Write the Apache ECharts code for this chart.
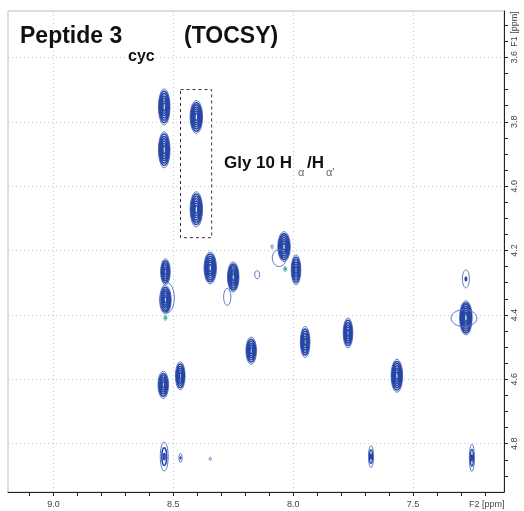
<!DOCTYPE html>
<html>
<head>
<meta charset="utf-8">
<script src="https://cdn.jsdelivr.net/npm/echarts@6/dist/echarts.min.js"></script>
<style>
html, body {margin: 0; padding: 0; background: #fff;}
#chart {width: 524px; height: 511px;}
</style>
</head>
<body>
<div id="chart"></div>
<script>
// F2 (horizontal) and F1 (vertical) windows, ppm
var f2Range = [7.12, 9.19];
var f1Range = [3.456, 4.95];
var f2Labels = [7.5, 8.0, 8.5, 9.0];
var f2Ticks = [7.2, 7.3, 7.4, 7.5, 7.6, 7.7, 7.8, 7.9, 8.0, 8.1, 8.2, 8.3, 8.4, 8.5, 8.6, 8.7, 8.8, 8.9, 9.0, 9.1];
var f1Labels = [3.6, 3.8, 4.0, 4.2, 4.4, 4.6, 4.8];
var f1Ticks = [3.5, 3.55, 3.6, 3.65, 3.7, 3.75, 3.8, 3.85, 3.9, 3.95, 4.0, 4.05, 4.1, 4.15, 4.2,
               4.25, 4.3, 4.35, 4.4, 4.45, 4.5, 4.55, 4.6, 4.65, 4.7, 4.75, 4.8, 4.85, 4.9];

// cross peaks: [F2 ppm, F1 ppm, width ppm, height ppm, contour levels]
var peaks = [
    [8.538, 3.754, 0.048, 0.112, 7],
    [8.538, 3.887, 0.048, 0.112, 7],
    [8.404, 3.785, 0.052, 0.102, 7],
    [8.404, 4.072, 0.052, 0.109, 7],
    [8.038, 4.188, 0.052, 0.093, 7],
    [8.058, 4.223, 0.058, 0.053, 1],
    [8.088, 4.188, 0.008, 0.012, 1],
    [7.988, 4.260, 0.040, 0.093, 6],
    [8.533, 4.266, 0.040, 0.081, 6],
    [8.533, 4.353, 0.048, 0.087, 7],
    [8.525, 4.347, 0.058, 0.093, 1],
    [8.346, 4.254, 0.052, 0.099, 7],
    [8.250, 4.282, 0.048, 0.093, 7],
    [8.275, 4.344, 0.030, 0.053, 1],
    [8.150, 4.275, 0.021, 0.025, 1],
    [8.175, 4.511, 0.044, 0.084, 6],
    [7.950, 4.484, 0.040, 0.096, 6],
    [8.542, 4.617, 0.044, 0.084, 6],
    [8.471, 4.589, 0.040, 0.087, 6],
    [7.771, 4.456, 0.040, 0.093, 6],
    [7.567, 4.589, 0.048, 0.102, 7],
    [7.279, 4.288, 0.029, 0.056, 2],
    [7.279, 4.409, 0.052, 0.106, 8],
    [7.287, 4.410, 0.108, 0.053, 1],
    [8.538, 4.840, 0.033, 0.090, 3],
    [8.470, 4.844, 0.013, 0.028, 2],
    [8.346, 4.847, 0.008, 0.010, 1],
    [7.675, 4.840, 0.021, 0.068, 3],
    [7.254, 4.844, 0.021, 0.084, 3]
];
// negative / weak peaks (cyan)
var weakPeaks = [
    [8.033, 4.257, 0.012, 0.016, 2],
    [8.533, 4.409, 0.012, 0.016, 2]
];
// Gly 10 box corners [F2, F1]
var glyBox = [[8.47, 3.70], [8.34, 4.16]];

var font = 'Liberation Sans, Arial, sans-serif';

function contourRenderer(outerColor, innerColor) {
    return function(params, api) {
        var c = api.coord([api.value(0), api.value(1)]);
        var s = api.size([api.value(2), api.value(3)]);
        var levels = api.value(4);
        var children = [];
        for (var k = 0; k < levels; k++) {
            var f = levels > 1 ? 1 - 0.78 * k / (levels - 1) : 1;
            children.push({
                type: 'ellipse',
                shape: {cx: c[0], cy: c[1], rx: s[0] / 2 * f, ry: s[1] / 2 * f},
                style: {fill: null, stroke: k == 0 ? outerColor : innerColor, lineWidth: k == 0 ? 1 : 1.5}
            });
        }
        return {type: 'group', children: children};
    };
}

var chart = echarts.init(document.getElementById('chart'));
chart.setOption({
    animation: false,
    grid: {left: 8, top: 11, right: 20, bottom: 19, show: true, borderColor: '#bdbdbd', borderWidth: 1},
    xAxis: [{
        type: 'value', min: f2Range[0], max: f2Range[1], inverse: true, position: 'bottom',
        axisLine: {show: true, lineStyle: {color: '#222', width: 1}},
        axisTick: {show: true, length: 4, customValues: f2Ticks, lineStyle: {color: '#222'}},
        axisLabel: {customValues: f2Labels, formatter: function(v){ return v.toFixed(1); },
                    fontSize: 9, color: '#444', margin: 8, fontFamily: font},
        splitLine: {show: false}
    }, {
        type: 'value', min: f2Range[0], max: f2Range[1], inverse: true, position: 'bottom',
        axisLine: {show: false}, axisLabel: {show: false},
        axisTick: {show: false, customValues: f2Labels},
        splitLine: {show: true, lineStyle: {type: [1, 3], color: '#c8c8c8'}}
    }],
    yAxis: [{
        type: 'value', min: f1Range[0], max: f1Range[1], inverse: true, position: 'right',
        axisLine: {show: true, lineStyle: {color: '#222', width: 1}},
        axisTick: {show: true, length: 4, customValues: f1Ticks, lineStyle: {color: '#222'}},
        axisLabel: {customValues: f1Labels, formatter: function(v){ return v.toFixed(1); },
                    rotate: 90, fontSize: 9, color: '#444', margin: 6, fontFamily: font},
        splitLine: {show: false}
    }, {
        type: 'value', min: f1Range[0], max: f1Range[1], inverse: true, position: 'right',
        axisLine: {show: false}, axisLabel: {show: false},
        axisTick: {show: false, customValues: f1Labels},
        splitLine: {show: true, lineStyle: {type: [1, 3], color: '#c8c8c8'}}
    }],
    series: [{
        type: 'custom',
        xAxisIndex: 0, yAxisIndex: 0,
        renderItem: contourRenderer('#5b74c4', '#2646a6'),
        data: peaks,
        clip: true,
        markArea: {
            silent: true,
            itemStyle: {color: 'rgba(0,0,0,0)', borderColor: '#333', borderWidth: 1, borderType: [3, 3]},
            data: [[{coord: glyBox[0]}, {coord: glyBox[1]}]]
        }
    }, {
        type: 'custom',
        xAxisIndex: 0, yAxisIndex: 0,
        renderItem: contourRenderer('#3aaea4', '#1f9a90'),
        data: weakPeaks,
        clip: true
    }],
    graphic: [
        {type: 'text', left: 20, top: 25, style: {text: 'Peptide 3', fill: '#111', font: 'bold 23px ' + font}},
        {type: 'text', left: 128, top: 49, style: {text: 'cyc', fill: '#111', font: 'bold 16px ' + font}},
        {type: 'text', left: 184, top: 25, style: {text: '(TOCSY)', fill: '#111', font: 'bold 23px ' + font}},
        {type: 'text', left: 224, top: 155, style: {text: 'Gly 10 H', fill: '#111', font: 'bold 17px ' + font}},
        {type: 'text', left: 298, top: 167, style: {text: 'α', fill: '#666', font: '11px ' + font}},
        {type: 'text', left: 307, top: 155, style: {text: '/H', fill: '#111', font: 'bold 17px ' + font}},
        {type: 'text', left: 326, top: 167, style: {text: 'α\'', fill: '#666', font: '11px ' + font}},
        {type: 'text', left: 469, top: 500, style: {text: 'F2 [ppm]', fill: '#444', font: '9px ' + font}},
        {type: 'text', x: 515, y: 29, rotation: Math.PI / 2,
         style: {text: 'F1 [ppm]', fill: '#444', font: '9px ' + font, align: 'center', verticalAlign: 'middle'}}
    ]
});
</script>
</body>
</html>
